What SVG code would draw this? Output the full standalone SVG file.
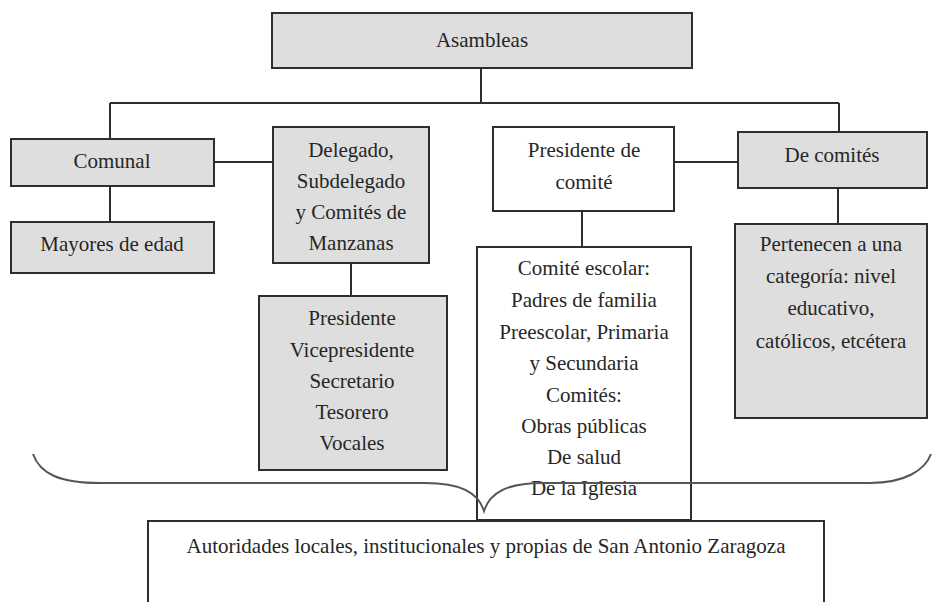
<svg xmlns="http://www.w3.org/2000/svg" width="933" height="602" viewBox="0 0 933 602">
<style>
.g{fill:#dedede;stroke:#2e2e2e;stroke-width:2}
.w{fill:#ffffff;stroke:#2e2e2e;stroke-width:2}
.t{font-family:'Liberation Serif','DejaVu Serif',serif;font-size:21px;fill:#262626;text-anchor:middle}
.c{fill:none;stroke:#2e2e2e;stroke-width:2}
.b{fill:none;stroke:#555;stroke-width:2}
</style>
<rect width="933" height="602" fill="#ffffff"/>
<g id="connectors">
<path class="c" d="M481 68V103M110 103H839M110 103V139M839 103V132"/>
<path class="c" d="M214 162H273M110 186V222M351 263V296"/>
<path class="c" d="M674 162H738M582 211V247M838 188V224"/>
</g>
<g id="asambleas"><rect class="g" x="272" y="13" width="420" height="55"/><text class="t" x="482" y="47">Asambleas</text></g>
<g id="comunal"><rect class="g" x="11" y="139" width="203" height="47"/><text class="t" x="112" y="168">Comunal</text></g>
<g id="mayores"><rect class="g" x="11" y="222" width="203" height="51"/><text class="t" x="112" y="251">Mayores de edad</text></g>
<g id="delegado"><rect class="g" x="273" y="127" width="156" height="136"/>
<text class="t" x="351" y="157">Delegado,</text><text class="t" x="351" y="188">Subdelegado</text><text class="t" x="351" y="219">y Comités de</text><text class="t" x="351" y="250">Manzanas</text></g>
<g id="presidente"><rect class="g" x="259" y="296" width="188" height="174"/>
<text class="t" x="352" y="325">Presidente</text><text class="t" x="352" y="357">Vicepresidente</text><text class="t" x="352" y="388">Secretario</text><text class="t" x="352" y="419">Tesorero</text><text class="t" x="352" y="450">Vocales</text></g>
<g id="presidente-comite"><rect class="w" x="493" y="127" width="181" height="84"/>
<text class="t" x="584" y="157">Presidente de</text><text class="t" x="584" y="189">comité</text></g>
<g id="de-comites"><rect class="g" x="738" y="132" width="189" height="56"/><text class="t" x="832" y="162">De comités</text></g>
<g id="pertenecen"><rect class="g" x="735" y="224" width="192" height="194"/>
<text class="t" x="831" y="251">Pertenecen a una</text><text class="t" x="831" y="283">categoría: nivel</text><text class="t" x="831" y="315">educativo,</text><text class="t" x="831" y="348">católicos, etcétera</text></g>
<g id="comite-escolar"><rect class="w" x="477" y="247" width="214" height="273"/>
<text class="t" x="584" y="275">Comité escolar:</text><text class="t" x="584" y="307">Padres de familia</text><text class="t" x="584" y="339">Preescolar, Primaria</text><text class="t" x="584" y="370">y Secundaria</text><text class="t" x="584" y="402">Comités:</text><text class="t" x="584" y="433">Obras públicas</text><text class="t" x="584" y="464">De salud</text><text class="t" x="584" y="495">De la Iglesia</text></g>
<g id="brace"><path class="b" d="M33 454C40 474 60 483 100 483H425C460 483 478 492 484 511C490 492 508 483 543 483H870C905 483 925 470 931 454"/></g>
<g id="autoridades"><rect class="w" x="148" y="521" width="676" height="110"/>
<text class="t" x="486" y="553">Autoridades locales, institucionales y propias de San Antonio Zaragoza</text></g>
</svg>
